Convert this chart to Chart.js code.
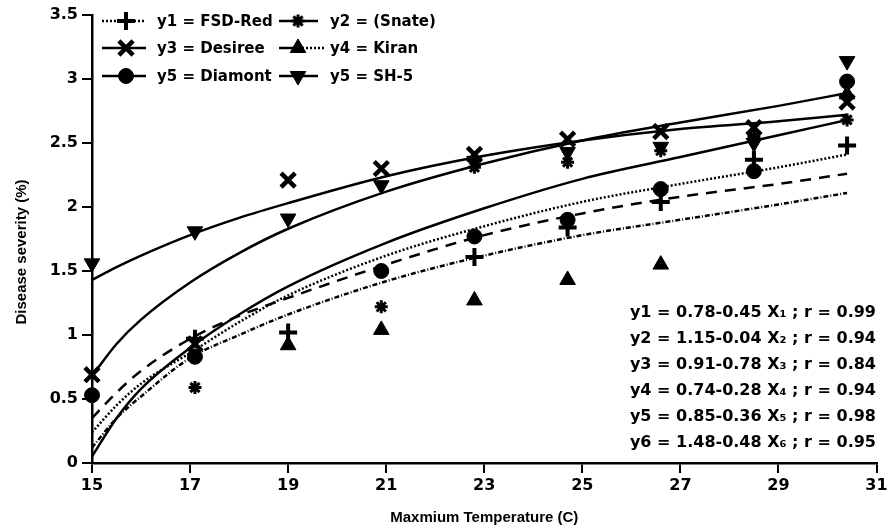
<!DOCTYPE html>
<html>
<head>
<meta charset="utf-8">
<script src="https://cdn.jsdelivr.net/npm/chart.js@4.4.1/dist/chart.umd.min.js"></script>
<style>
    html, body { margin: 0; padding: 0; background: #fff; }
    #wrap { width: 891px; height: 531px; }
</style>
</head>
<body>
<div id="wrap"><canvas id="chart" width="891" height="531"></canvas></div>
<script>
// Temperatures where severity was recorded
var temps = [15, 17.1, 19, 20.9, 22.8, 24.7, 26.6, 28.5, 30.4];

// Observed severity (%), null where the marker is hidden by another one
var fsdRed  = [null, 0.97, 1.02, null, 1.61, 1.84, 2.04, 2.37, 2.48];
var snate   = [null, 0.59, null, 1.22, 2.31, 2.35, 2.44, 2.55, 2.68];
var desiree = [0.69, 0.93, 2.21, 2.30, 2.41, 2.53, 2.59, 2.62, 2.82];
var kiran   = [null, null, 0.92, 1.04, 1.27, 1.43, 1.55, null, 2.88];
var diamont = [0.53, 0.83, null, 1.50, 1.77, 1.90, 2.14, 2.28, 2.98];
var sh5     = [1.56, 1.81, 1.91, 2.17, 2.36, 2.43, 2.47, 2.50, 3.14];

// Fitted curves
var fitX       = [15, 15.5, 16, 17, 18, 19, 21, 23, 25, 27, 29, 30.4];
var fitFsdRed  = [0.24, 0.45, 0.62, 0.86, 1.10, 1.31, 1.62, 1.85, 2.04, 2.18, 2.31, 2.41];
var fitSnate   = [0.35, 0.55, 0.72, 0.97, 1.15, 1.29, 1.55, 1.78, 1.95, 2.08, 2.18, 2.26];
var fitDesiree = [0.68, 0.93, 1.12, 1.41, 1.64, 1.83, 2.12, 2.34, 2.52, 2.66, 2.79, 2.89];
var fitKiran   = [0.12, 0.35, 0.52, 0.82, 1.00, 1.16, 1.42, 1.62, 1.78, 1.90, 2.02, 2.11];
var fitDiamont = [0.05, 0.35, 0.58, 0.90, 1.16, 1.38, 1.72, 1.99, 2.22, 2.39, 2.56, 2.68];
var fitSh5     = [1.43, 1.53, 1.62, 1.78, 1.915, 2.03, 2.24, 2.40, 2.52, 2.61, 2.67, 2.72];

// Tick labels
var xTicks = [15, 17, 19, 21, 23, 25, 27, 29, 31];
var yTicks = [0, 0.5, 1, 1.5, 2, 2.5, 3, 3.5];

var seriesNames = ['y1 = FSD-Red', 'y2 = (Snate)', 'y3 = Desiree', 'y4 = Kiran', 'y5 = Diamont', 'y5 = SH-5'];
var equations = [
    'y1 = 0.78-0.45 X\u2081 ; r = 0.99',
    'y2 = 1.15-0.04 X\u2082 ; r = 0.94',
    'y3 = 0.91-0.78 X\u2083 ; r = 0.84',
    'y4 = 0.74-0.28 X\u2084 ; r = 0.94',
    'y5 = 0.85-0.36 X\u2085 ; r = 0.98',
    'y6 = 1.48-0.48 X\u2086 ; r = 0.95'
];

var observed = [fsdRed, snate, desiree, kiran, diamont, sh5];
var fitted = [fitFsdRed, fitSnate, fitDesiree, fitKiran, fitDiamont, fitSh5];

// marker look for every cultivar
var markers = [
    { pointStyle: 'cross', radius: 9, rotation: 0, borderWidth: 4 },
    { pointStyle: 'star', radius: 6.5, rotation: 0, borderWidth: 3 },
    { pointStyle: 'crossRot', radius: 10, rotation: 0, borderWidth: 4.5 },
    { pointStyle: 'triangle', radius: 9, rotation: 0, borderWidth: 1 },
    { pointStyle: 'circle', radius: 7.5, rotation: 0, borderWidth: 1 },
    { pointStyle: 'triangle', radius: 9, rotation: 180, borderWidth: 1 }
];
var curveDash = [[2, 2], [11, 8], [], [5, 2, 1, 2], [], []];
// legend line sample: dash left of marker, dash right of marker
var legendDash = [[[2, 2], [2, 2]], [[], []], [[], []], [[], [2, 2]], [[], []], [[], []]];

var FONT = '"DejaVu Sans", sans-serif';
var TITLE_FONT = '"Liberation Sans", Arial, sans-serif';

function toPoints(xs, ys) {
    var pts = [];
    for (var i = 0; i < xs.length; i++) {
        if (ys[i] !== null) pts.push({ x: xs[i], y: ys[i] });
    }
    return pts;
}

var datasets = [];
fitted.forEach(function (ys, i) {
    datasets.push({
        data: toPoints(fitX, ys),
        showLine: true,
        borderColor: '#000',
        borderWidth: 2.5,
        borderDash: curveDash[i],
        borderCapStyle: 'butt',
        cubicInterpolationMode: 'monotone',
        pointRadius: 0,
        fill: false,
        order: 2
    });
});
observed.forEach(function (ys, i) {
    var m = markers[i];
    datasets.push({
        label: seriesNames[i],
        data: toPoints(temps, ys),
        showLine: false,
        pointStyle: m.pointStyle,
        pointRadius: m.radius,
        pointRotation: m.rotation,
        pointBorderWidth: m.borderWidth,
        pointBackgroundColor: '#000',
        pointBorderColor: '#000',
        clip: false,
        order: 1
    });
});

function drawMarker(ctx, m, x, y) {
    ctx.fillStyle = '#000';
    ctx.strokeStyle = '#000';
    ctx.lineWidth = m.borderWidth;
    ctx.setLineDash([]);
    if (Chart.helpers && Chart.helpers.drawPoint) {
        Chart.helpers.drawPoint(ctx, { pointStyle: m.pointStyle, radius: m.radius, rotation: m.rotation, borderWidth: m.borderWidth }, x, y);
    }
}

// Legend block top left, y axis title, and the equations bottom right
var notesPlugin = {
    id: 'notes',
    afterDraw: function (chart) {
        var ctx = chart.ctx;
        ctx.save();
        var rows = [21, 48, 76];
        var cols = [{ a: 102, m: 126, b: 146, t: 157 }, { a: 279, m: 298, b: 318, t: 330 }];
        ctx.font = 'bold 15px ' + FONT;
        ctx.textBaseline = 'middle';
        seriesNames.forEach(function (name, i) {
            var c = cols[i % 2];
            var y = rows[Math.floor(i / 2)];
            var b = (i === 3) ? c.b + 8 : c.b;
            ctx.strokeStyle = '#000';
            ctx.lineWidth = 2.5;
            ctx.setLineDash(legendDash[i][0]);
            ctx.beginPath(); ctx.moveTo(c.a, y); ctx.lineTo(c.m, y); ctx.stroke();
            ctx.setLineDash(legendDash[i][1]);
            ctx.beginPath(); ctx.moveTo(c.m, y); ctx.lineTo(b, y); ctx.stroke();
            drawMarker(ctx, markers[i], c.m, y);
            ctx.fillStyle = '#000';
            ctx.textAlign = 'left';
            ctx.fillText(name, c.t, y + 1);
        });

        ctx.font = 'bold 16px ' + FONT;
        ctx.textAlign = 'right';
        equations.forEach(function (eq, i) {
            ctx.fillText(eq, 876, 313 + i * 26);
        });

        ctx.translate(22, 252);
        ctx.rotate(-Math.PI / 2);
        ctx.textAlign = 'center';
        ctx.font = 'bold 15px ' + TITLE_FONT;
        ctx.fillText('Disease severity (%)', 0, 0);
        ctx.restore();
    }
};

var ctx = document.getElementById('chart');
var chart = new Chart(ctx, {
    type: 'scatter',
    data: { datasets: datasets },
    options: {
        responsive: false,
        animation: false,
        layout: { padding: { top: 15, right: 14, left: 0, bottom: 0 } },
        plugins: {
            legend: { display: false },
            tooltip: { enabled: false }
        },
        scales: {
            x: {
                type: 'linear',
                min: 15,
                max: 31,
                afterBuildTicks: function (scale) {
                    scale.ticks = xTicks.map(function (v) { return { value: v }; });
                },
                afterFit: function (scale) { scale.height = 68; },
                grid: { drawOnChartArea: false, drawTicks: true, tickLength: 10, color: '#000', lineWidth: 2 },
                border: { display: true, color: '#000', width: 2.5 },
                ticks: {
                    color: '#000', font: { family: FONT, size: 16, weight: 'bold' }, padding: 3, maxRotation: 0,
                    callback: function (v) { return String(v); }
                },
                title: { display: true, text: 'Maxmium Temperature (C)', color: '#000', font: { family: TITLE_FONT, size: 15, weight: 'bold' }, padding: { top: 0, bottom: 4 } }
            },
            y: {
                min: 0,
                max: 3.5,
                afterBuildTicks: function (scale) {
                    scale.ticks = yTicks.map(function (v) { return { value: v }; });
                },
                afterFit: function (scale) { scale.width = 92; },
                grid: { drawOnChartArea: false, drawTicks: true, tickLength: 10, color: '#000', lineWidth: 2 },
                border: { display: true, color: '#000', width: 2.5 },
                ticks: {
                    color: '#000', font: { family: FONT, size: 16, weight: 'bold' }, padding: 4,
                    callback: function (v) { return String(v); }
                },
                title: { display: false }
            }
        }
    },
    plugins: [notesPlugin]
});
</script>
</body>
</html>
